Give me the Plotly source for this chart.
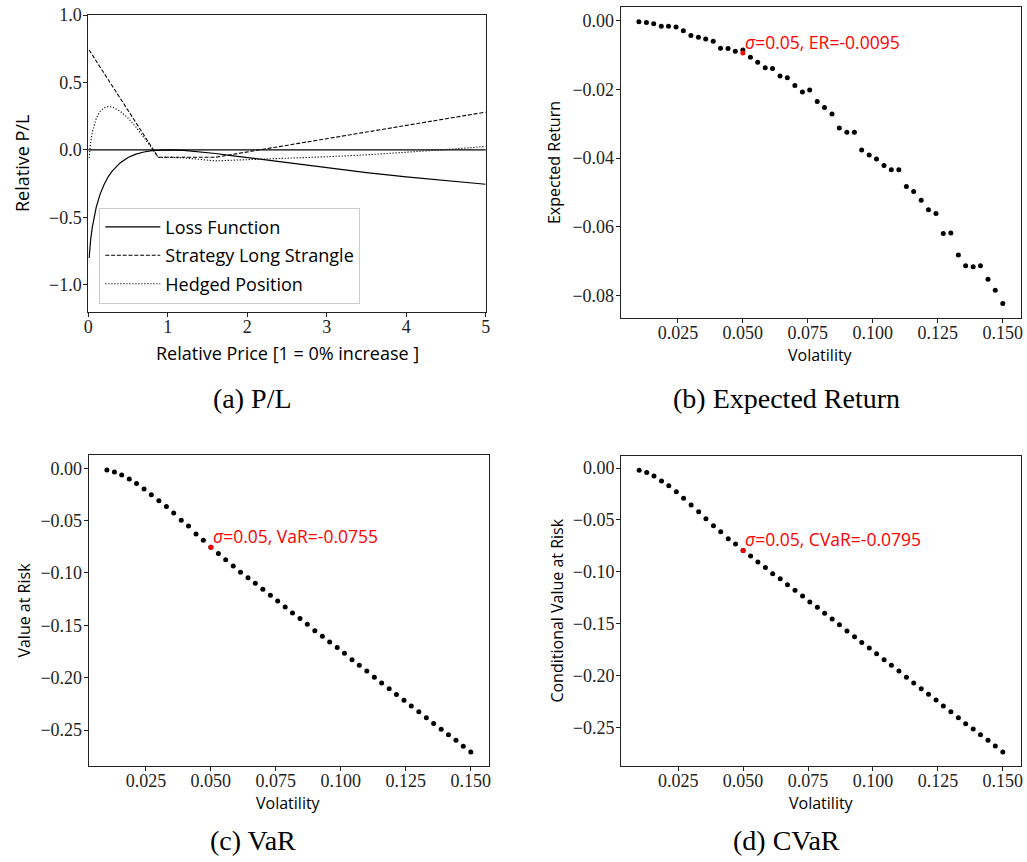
import plotly.graph_objects as go

# ---- (a) P/L profile over relative price ----
price = [0.01, 0.02, 0.03, 0.05, 0.075, 0.1, 0.15, 0.2, 0.25, 0.3, 0.4, 0.5, 0.6,
         0.7, 0.8, 0.88, 1.0, 1.2, 1.4, 1.6, 1.8, 2.0, 2.5, 3.0, 3.5, 4.0, 4.5, 5.0]
loss_fn = [-0.802, -0.723, -0.664, -0.574, -0.491, -0.425, -0.326, -0.255, -0.200,
           -0.157, -0.097, -0.057, -0.032, -0.016, -0.006, -0.002, 0.000, -0.004,
           -0.014, -0.027, -0.042, -0.057, -0.097, -0.134, -0.169, -0.200, -0.229, -0.255]
strangle = [0.741, 0.732, 0.723, 0.704, 0.681, 0.658, 0.613, 0.567, 0.521, 0.476,
            0.384, 0.293, 0.201, 0.110, 0.018, -0.055, -0.055, -0.055, -0.055, -0.055,
            -0.035, -0.016, 0.034, 0.083, 0.132, 0.181, 0.231, 0.280]
hedged = [-0.061, 0.009, 0.059, 0.130, 0.190, 0.233, 0.287, 0.312, 0.321, 0.319,
          0.287, 0.236, 0.169, 0.094, 0.012, -0.057, -0.055, -0.059, -0.069, -0.082,
          -0.077, -0.073, -0.063, -0.051, -0.037, -0.019, 0.002, 0.025]

# ---- (b)-(d) risk measures over volatility ----
volatility = [0.0100, 0.0129, 0.0157, 0.0186, 0.0214, 0.0243, 0.0271, 0.0300, 0.0329, 0.0357,
              0.0386, 0.0414, 0.0443, 0.0471, 0.0500, 0.0529, 0.0557, 0.0586, 0.0614, 0.0643,
              0.0671, 0.0700, 0.0729, 0.0757, 0.0786, 0.0814, 0.0843, 0.0871, 0.0900, 0.0929,
              0.0957, 0.0986, 0.1014, 0.1043, 0.1071, 0.1100, 0.1129, 0.1157, 0.1186, 0.1214,
              0.1243, 0.1271, 0.1300, 0.1329, 0.1357, 0.1386, 0.1414, 0.1443, 0.1471, 0.1500]
expected_return = [-0.0004, -0.0006, -0.0010, -0.0017, -0.0017, -0.0019, -0.0030, -0.0044, -0.0049, -0.0054,
                   -0.0061, -0.0081, -0.0082, -0.0090, -0.0086, -0.0107, -0.0122, -0.0138, -0.0140, -0.0162,
                   -0.0167, -0.0189, -0.0208, -0.0202, -0.0236, -0.0253, -0.0272, -0.0313, -0.0325, -0.0325,
                   -0.0377, -0.0391, -0.0403, -0.0422, -0.0434, -0.0434, -0.0483, -0.0497, -0.0523, -0.0550,
                   -0.0561, -0.0619, -0.0618, -0.0682, -0.0713, -0.0716, -0.0713, -0.0752, -0.0784, -0.0823]
value_at_risk = [-0.0016, -0.0035, -0.0064, -0.0102, -0.0146, -0.0197, -0.0252, -0.0309, -0.0366, -0.0427,
                 -0.0497, -0.0551, -0.0627, -0.0688, -0.0755, -0.0815, -0.0873, -0.0933, -0.0994, -0.1045,
                 -0.1099, -0.1156, -0.1213, -0.1268, -0.1325, -0.1382, -0.1436, -0.1490, -0.1551, -0.1605,
                 -0.1659, -0.1713, -0.1768, -0.1828, -0.1882, -0.1936, -0.1997, -0.2051, -0.2105, -0.2162,
                 -0.2217, -0.2271, -0.2325, -0.2382, -0.2439, -0.2494, -0.2545, -0.2599, -0.2656, -0.2710]
cond_var = [-0.0022, -0.0042, -0.0077, -0.0125, -0.0170, -0.0228, -0.0292, -0.0357, -0.0421, -0.0488,
            -0.0556, -0.0614, -0.0681, -0.0733, -0.0795, -0.0848, -0.0906, -0.0958, -0.1019, -0.1067,
            -0.1125, -0.1179, -0.1234, -0.1292, -0.1343, -0.1401, -0.1456, -0.1510, -0.1571, -0.1626,
            -0.1681, -0.1735, -0.1790, -0.1848, -0.1902, -0.1957, -0.2018, -0.2073, -0.2127, -0.2182,
            -0.2237, -0.2294, -0.2349, -0.2407, -0.2465, -0.2516, -0.2571, -0.2625, -0.2680, -0.2738]

# highlighted sigma = 0.05 results
sigma_sel = 0.05
er_sel = -0.0095
var_sel = -0.0755
cvar_sel = -0.0795

captions = ["(a) P/L", "(b) Expected Return", "(c) VaR", "(d) CVaR"]

SERIF = "Liberation Serif"
SANS = "Open Sans"
INK = "#222222"

fig = go.Figure()

# panel (a)
fig.add_trace(go.Scatter(x=price, y=loss_fn, mode="lines", name="Loss Function",
                         legendgroup="g1", line=dict(color="black", width=1.2),
                         xaxis="x", yaxis="y"))
fig.add_trace(go.Scatter(x=price, y=strangle, mode="lines", name="Strategy Long Strangle",
                         legendgroup="g2", line=dict(color="black", width=1.1, dash="4px,1.8px"),
                         xaxis="x", yaxis="y"))
fig.add_trace(go.Scatter(x=price, y=hedged, mode="lines", name="Hedged Position",
                         legendgroup="g3", line=dict(color="black", width=1.1, dash="1.2px,1.8px"),
                         xaxis="x", yaxis="y"))

dot = dict(color="black", size=5)
red = dict(color="#ff0000", size=5)

for xa, ya, vals, sel, lab in [("x2", "y2", expected_return, er_sel, "ER"),
                               ("x3", "y3", value_at_risk, var_sel, "VaR"),
                               ("x4", "y4", cond_var, cvar_sel, "CVaR")]:
    fig.add_trace(go.Scatter(x=volatility, y=vals, mode="markers", marker=dot,
                             showlegend=False, xaxis=xa, yaxis=ya))
    fig.add_trace(go.Scatter(x=[sigma_sel], y=[sel], mode="markers", marker=red,
                             showlegend=False, xaxis=xa, yaxis=ya))
    fig.add_annotation(x=sigma_sel, y=sel, xref=xa, yref=ya,
                       text=f"<i>σ</i>={sigma_sel}, {lab}={sel}",
                       showarrow=False, xanchor="left", yanchor="bottom",
                       xshift=0, yshift=-3,
                       font=dict(family=SANS, size=17.5, color="#ff0000"))

axis_common = dict(showline=True, mirror=True, linecolor=INK, linewidth=1,
                   ticks="outside", ticklen=4, tickwidth=1, tickcolor=INK,
                   showgrid=False, zeroline=False, automargin=False,
                   tickfont=dict(family=SERIF, size=18, color=INK))
xaxis_common = dict(axis_common, ticklabelstandoff=-5)
yaxis_common = dict(axis_common, ticklabelstandoff=-2)
title_font = dict(family=SANS, size=16, color="black")
title_font_a = dict(family=SANS, size=18, color="black")

W, H = 1027, 862
def dom_x(a, b):
    return [a / W, b / W]
def dom_y(top, bottom):
    return [1 - bottom / H, 1 - top / H]

vol_ticks = [0.025, 0.05, 0.075, 0.1, 0.125, 0.15]

fig.update_layout(
    width=W, height=H,
    margin=dict(l=0, r=0, t=0, b=0),
    paper_bgcolor="white", plot_bgcolor="white",
    xaxis=dict(xaxis_common, domain=dom_x(88.3, 485.7), anchor="y", range=[0, 5],
               tickvals=[0, 1, 2, 3, 4, 5]),
    yaxis=dict(yaxis_common, domain=dom_y(15, 311.7), anchor="x", range=[-1.2, 1.0],
               tickvals=[-1, -0.5, 0, 0.5, 1], tickformat=".1f",
               title=dict(text="Relative P/L", font=title_font_a, standoff=14)),
    xaxis2=dict(xaxis_common, domain=dom_x(620.7, 1021), anchor="y2", range=[0.003, 0.157],
                tickvals=vol_ticks, tickformat=".3f"),
    yaxis2=dict(yaxis_common, domain=dom_y(7.3, 317.7), anchor="x2", range=[-0.0864, 0.0038],
                tickvals=[0, -0.02, -0.04, -0.06, -0.08], tickformat=".2f",
                title=dict(text="Expected Return", font=title_font, standoff=7)),
    xaxis3=dict(xaxis_common, domain=dom_x(88.7, 489), anchor="y3", range=[0.003, 0.157],
                tickvals=vol_ticks, tickformat=".3f"),
    yaxis3=dict(yaxis_common, domain=dom_y(455.3, 765.7), anchor="x3", range=[-0.2841, 0.0124],
                tickvals=[0, -0.05, -0.1, -0.15, -0.2, -0.25], tickformat=".2f",
                title=dict(text="Value at Risk", font=title_font, standoff=5)),
    xaxis4=dict(xaxis_common, domain=dom_x(621, 1021), anchor="y4", range=[0.003, 0.157],
                tickvals=vol_ticks, tickformat=".3f"),
    yaxis4=dict(yaxis_common, domain=dom_y(455.7, 765.7), anchor="x4", range=[-0.287, 0.0119],
                tickvals=[0, -0.05, -0.1, -0.15, -0.2, -0.25], tickformat=".2f",
                title=dict(text="Conditional Value at Risk", font=title_font, standoff=5)),
    legend=dict(x=99.3 / W, y=1 - 207.7 / H, xanchor="left", yanchor="top",
                bgcolor="rgba(255,255,255,0.8)", bordercolor="#cccccc", borderwidth=1,
                font=dict(family=SANS, size=18, color="black"),
                tracegroupgap=2, itemwidth=55),
    showlegend=True,
)

# x-axis labels placed beneath each panel's tick labels
for xa, cy, txt, fnt in [("x", 353, "Relative Price [1 = 0% increase ]", title_font_a),
                         ("x2", 355, "Volatility", title_font),
                         ("x3", 803, "Volatility", title_font),
                         ("x4", 803, "Volatility", title_font)]:
    fig.add_annotation(x=0.5, y=1 - cy / H, xref=f"{xa} domain", yref="paper",
                       text=txt, showarrow=False,
                       xanchor="center", yanchor="middle", font=fnt)

# horizontal reference line at zero in the P/L panel
fig.add_shape(type="line", xref="x domain", yref="y", x0=0, x1=1, y0=0, y1=0,
              line=dict(color="black", width=1.2))

# panel captions
cap_pos = [(252.5, 398), (786, 398), (253, 840), (786, 840)]
for txt, (cx, cy) in zip(captions, cap_pos):
    fig.add_annotation(x=cx / W, y=1 - cy / H, xref="paper", yref="paper", text=txt,
                       showarrow=False, xanchor="center", yanchor="middle",
                       font=dict(family=SERIF, size=28, color="black"))

fig.write_html("out.html")
